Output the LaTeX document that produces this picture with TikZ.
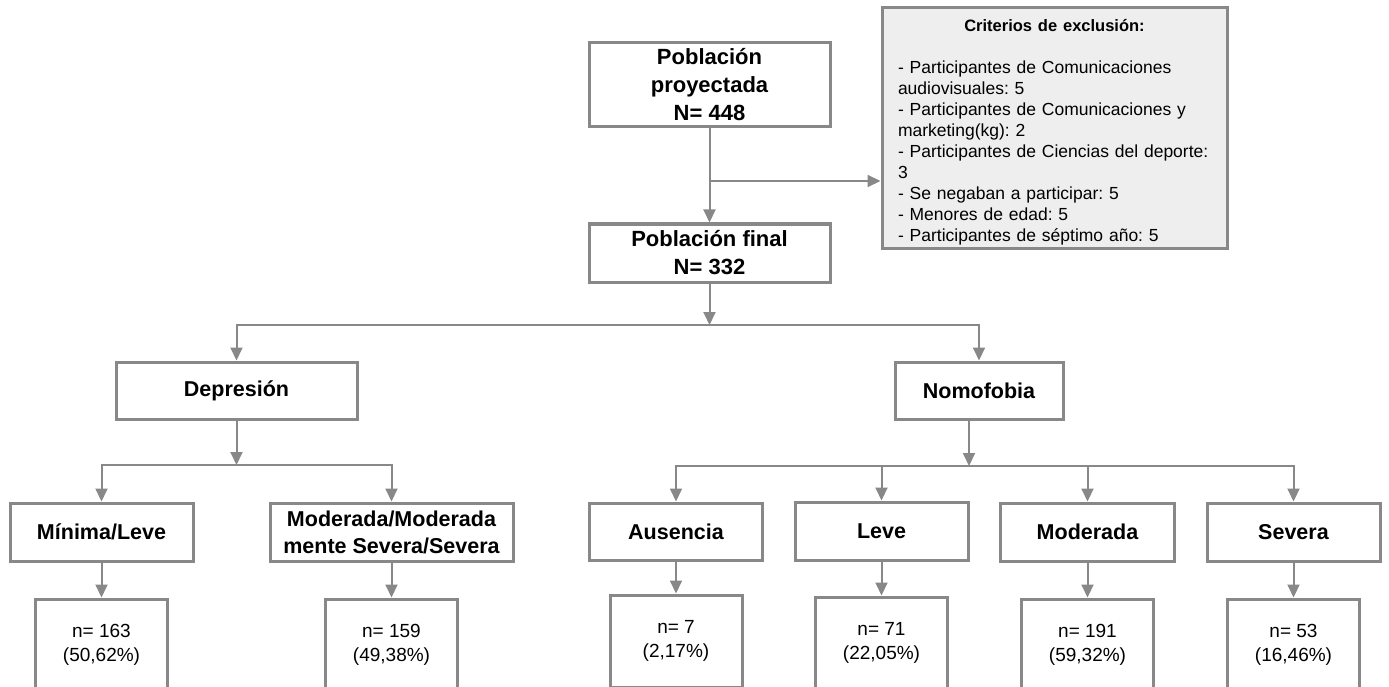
\documentclass[tikz,border=0pt]{standalone}
\usepackage{fontspec}
\setmainfont{Liberation Sans}
\frenchspacing
\usetikzlibrary{arrows.meta}
\definecolor{linegray}{RGB}{136,136,136}
\definecolor{critfill}{RGB}{238,238,238}

\begin{document}
\begin{tikzpicture}[x=1pt, y=-1pt,
		b/.style={draw=linegray, line width=3pt, align=center, inner sep=0pt, font=\fontsize{21.5}{27}\selectfont\bfseries},
		n/.style={draw=linegray, line width=3pt, align=center, inner sep=0pt, minimum width=132pt, minimum height=92pt, font=\fontsize{19}{24}\selectfont},
		a/.style={draw=linegray, line width=2pt, -{Triangle[length=13pt, width=12pt]}}]
		\useasboundingbox (0,0) rectangle (1389,687);

		\node[b, minimum width=241pt, minimum height=84pt, font=\fontsize{22}{28}\selectfont\bfseries] (proy) at (709.5,85) {Población\\proyectada\\N= 448};
		\node[b, minimum width=241pt, minimum height=58pt, font=\fontsize{22}{28}\selectfont\bfseries] (final) at (709.5,253) {Población final\\N= 332};
		\node[draw=linegray, line width=3pt, fill=critfill, inner sep=0pt, minimum width=345pt, minimum height=240pt, text width=313pt, align=left, font=\fontsize{17.5}{21}\selectfont] (crit) at (1054.5,128)
			{{\centering\rule{0pt}{20pt}\fontsize{16.5}{21}\selectfont\bfseries Criterios de exclusión:\par}\vspace{21pt}%
			- Participantes de Comunicaciones\\audiovisuales: 5\\- Participantes de Comunicaciones y\\marketing(kg): 2\\- Participantes de Ciencias del deporte:\\3\\- Se negaban a participar: 5\\- Menores de edad: 5\\- Participantes de séptimo año: 5};

		\node[b, minimum width=241pt, minimum height=57pt] (dep) at (236.5,390.5) {Depresión};
		\node[b, minimum width=168pt, minimum height=57pt] (nomo) at (979,390.5) {Nomofobia};

		\node[b, minimum width=183pt, minimum height=58pt] (minima) at (101.5,532) {Mínima/Leve};
		\node[b, minimum width=243pt, minimum height=58pt] (modsev) at (391.5,532) {Moderada/Moderada\\mente Severa/Severa};
		\node[b, minimum width=173pt, minimum height=57pt] (aus) at (676,531.5) {Ausencia};
		\node[b, minimum width=173pt, minimum height=58pt] (leve) at (881.5,531) {Leve};
		\node[b, minimum width=174pt, minimum height=58pt] (mod) at (1087.5,532) {Moderada};
		\node[b, minimum width=173pt, minimum height=58pt] (sev) at (1293.5,532) {Severa};

		\node[n] (nmin) at (101.5,645) {n= 163\\(50,62\%)};
		\node[n] (nmodsev) at (391.5,645) {n= 159\\(49,38\%)};
		\node[n] (naus) at (676,641) {n= 7\\(2,17\%)};
		\node[n] (nleve) at (881.5,643) {n= 71\\(22,05\%)};
		\node[n] (nmod) at (1087.5,645) {n= 191\\(59,32\%)};
		\node[n] (nsev) at (1293.5,645) {n= 53\\(16,46\%)};

		% split points
		\coordinate (excl) at (709.5,181);
		\coordinate (split) at (709.5,325);
		\coordinate (dsplit) at (236.5,465);
		\coordinate (nsplit) at (969,466);

		\draw[a] (proy) -- (final);
		\draw[a] (excl) -- (excl -| crit.west);
		\draw[a] (final) -- (split);
		\draw[a] (split) -| (dep);
		\draw[a] (split) -| (nomo);

		\draw[a] (dep) -- (dsplit);
		\draw[a] (dsplit) -| (minima);
		\draw[a] (dsplit) -| (modsev);
		\draw[a] (nomo.south -| nsplit) -- (nsplit);
		\draw[a] (nsplit) -| (aus);
		\draw[a] (nsplit) -| (leve);
		\draw[a] (nsplit) -| (mod);
		\draw[a] (nsplit) -| (sev);

		\draw[a] (minima) -- (nmin);
		\draw[a] (modsev) -- (nmodsev);
		\draw[a] (aus) -- (naus);
		\draw[a] (leve) -- (nleve);
		\draw[a] (mod) -- (nmod);
		\draw[a] (sev) -- (nsev);
	\end{tikzpicture}
\end{document}
